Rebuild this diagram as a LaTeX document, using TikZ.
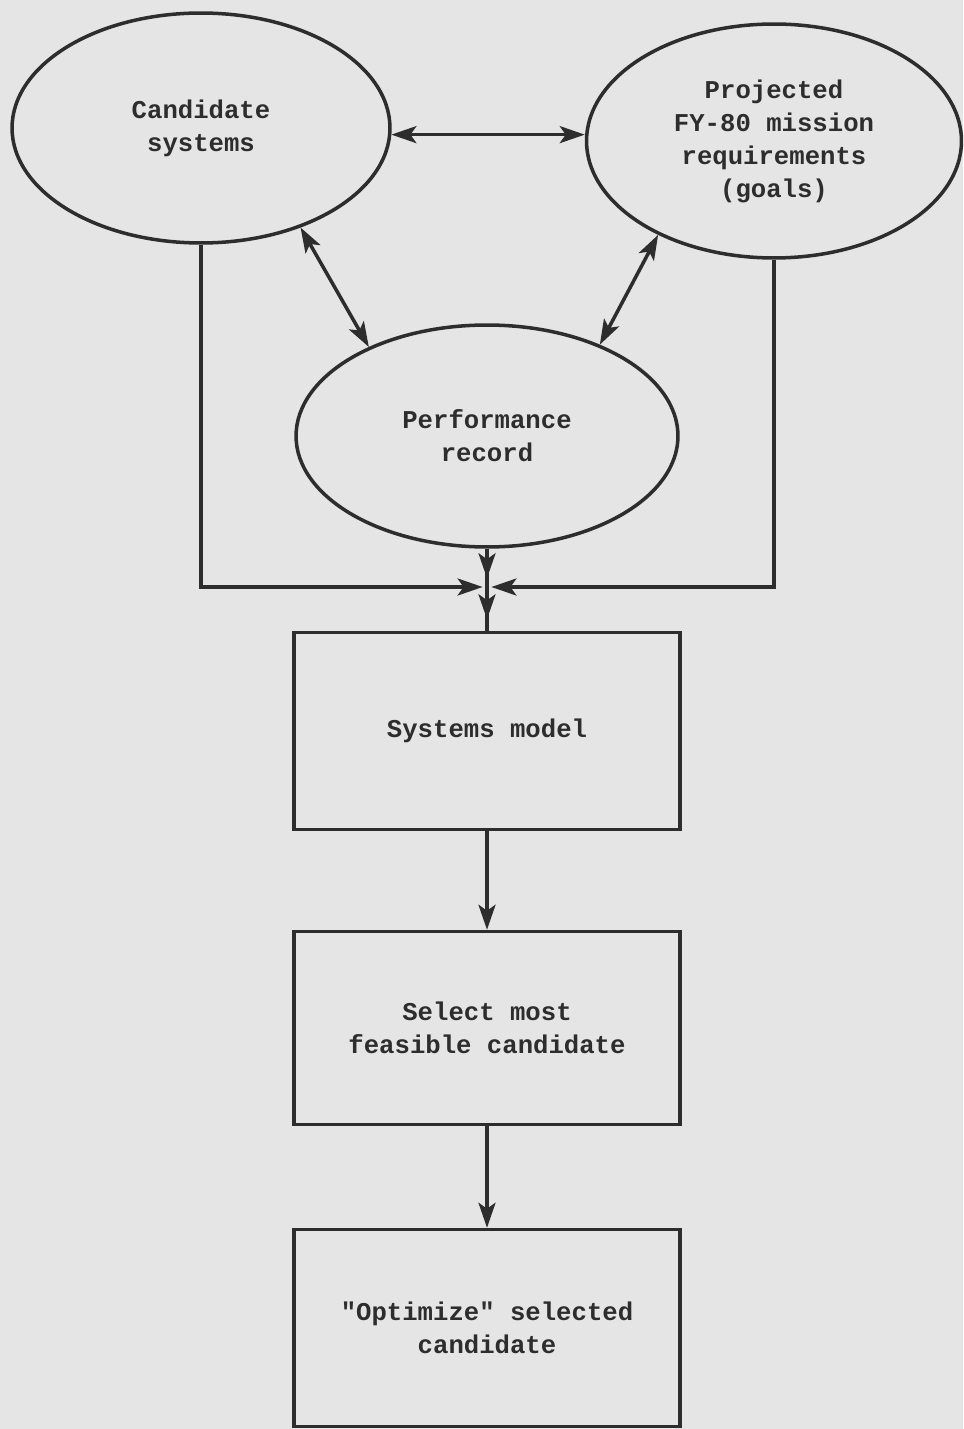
\documentclass[tikz,border=0pt]{standalone}
\usepackage{fontspec}
\setmonofont{Liberation Mono}
\usetikzlibrary{arrows.meta,shapes.geometric,decorations.markings}
\definecolor{paper}{RGB}{229,229,229}
\definecolor{ink}{RGB}{45,45,45}

\begin{document}
\begin{tikzpicture}[x=0.02cm, y=-0.02cm,
	every node/.style={font=\fontsize{14.6}{18.8}\selectfont\ttfamily\bfseries, text=ink, align=center},
	>={Stealth[length=5mm, width=3.4mm, inset=1.2mm]},
	conn/.style={draw=ink, line width=2pt},
	oval/.style={ellipse, draw=ink, line width=2pt, inner sep=0pt},
	block/.style={rectangle, draw=ink, line width=2pt, minimum width=7.72cm, minimum height=3.94cm, inner sep=0pt}]
	\fill[paper] (0,0) rectangle (963,1429);
	% the three inputs
	\node[oval, minimum width=7.56cm, minimum height=4.6cm] (cand) at (201,128) {Candidate\\systems};
	\node[oval, minimum width=7.5cm, minimum height=4.68cm] (proj) at (774,141) {Projected\\FY-80 mission\\requirements\\(goals)};
	\node[oval, minimum width=7.64cm, minimum height=4.44cm] (perf) at (487,436) {Performance\\record};
	\draw[conn, <->] (cand.-2) -- (cand.-2 -| proj.west);
	\draw[conn, <->] (cand.-45) -- (perf.143);
	\draw[conn, <->] (proj.-141) -- (perf.39);
	% merge into the model
	\coordinate (jn) at (487,587);
	\node[block] (model) at (487,731) {Systems model};
	\node[block, minimum height=3.86cm] (select) at (487,1028) {Select most\\feasible candidate};
	\node[block] (opt) at (487,1328) {"Optimize" selected\\candidate};
	\draw[conn, ->, shorten >=2.5pt] (cand.south) |- (jn);
	\draw[conn, ->, shorten >=2.5pt] (proj.south) |- (jn);
	\draw[conn, postaction={decorate}, decoration={markings,
		mark=at position 0.36 with {\arrow{>}}, mark=at position 0.86 with {\arrow{>}}}] (perf.south) -- (model.north);
	\draw[conn, ->] (model) -- (select);
	\draw[conn, ->] (select) -- (opt);
\end{tikzpicture}
\end{document}
